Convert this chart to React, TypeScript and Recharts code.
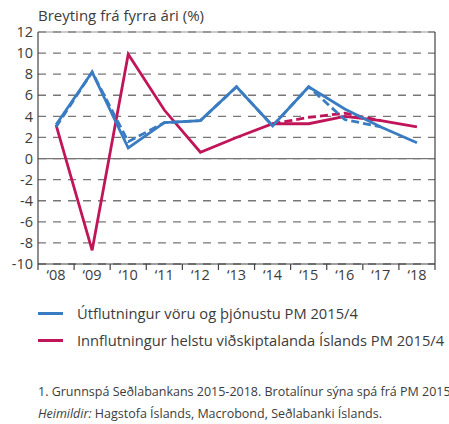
import React from "react";
import {
  CartesianGrid,
  Line,
  LineChart,
  ReferenceLine,
  XAxis,
  YAxis,
} from "recharts";

const years = ["‘08", "‘09", "‘10", "‘11", "‘12", "‘13", "‘14", "‘15", "‘16", "‘17", "‘18"];
const exportsPM = [3.2, 8.2, 1.0, 3.4, 3.6, 6.8, 3.1, 6.8, 4.7, 3.0, 1.5];
const exportsPrev = [3.0, 8.2, 1.6, 3.4, 3.6, 6.8, 3.1, 6.8, 3.7, 3.0, null];
const importsPM = [3.2, -8.7, 9.9, 4.6, 0.6, 2.0, 3.3, 3.3, 4.0, 3.6, 3.0];
const importsPrev = [null, null, null, null, null, null, 3.3, 3.9, 4.3, 3.6, null];
const yTicks = [-10, -8, -6, -4, -2, 0, 2, 4, 6, 8, 10, 12];

const data = years.map((year, i) => ({
  year,
  exportsPM: exportsPM[i],
  exportsPrev: exportsPrev[i],
  importsPM: importsPM[i],
  importsPrev: importsPrev[i],
}));

const BLUE = "#3a7cc1";
const RED = "#c11559";
const TEXT = "#3c3c3c";
const FONT = "'Open Sans', sans-serif";
const BAND = 397 / 11;

const XTick = (props: any) => {
  const { x, y, payload, index } = props;
  return (
    <g>
      <line x1={x - BAND / 2} x2={x - BAND / 2} y1={y} y2={y + 6} stroke="#444" strokeWidth={1.2} />
      {index === years.length - 1 && (
        <line x1={x + BAND / 2} x2={x + BAND / 2} y1={y} y2={y + 6} stroke="#444" strokeWidth={1.2} />
      )}
      <text x={x} y={y + 16} textAnchor="middle" fontSize={14.5} fill={TEXT} fontFamily={FONT}>
        {payload.value}
      </text>
    </g>
  );
};

const LegendRow = ({ color, label, top }: { color: string; label: string; top: number }) => (
  <div style={{ position: "absolute", left: 38, top, display: "flex", alignItems: "center", whiteSpace: "nowrap" }}>
    <div style={{ width: 25, height: 3, background: color, marginRight: 14 }} />
    <span style={{ fontSize: 14.7, color: TEXT }}>{label}</span>
  </div>
);

const App = () => {
  return (
    <div
      style={{
        position: "absolute",
        left: 0,
        top: 0,
        width: 449,
        height: 424,
        overflow: "hidden",
        background: "#fff",
        fontFamily: FONT,
      }}
    >
      <div style={{ position: "absolute", left: 38, top: 5, fontSize: 15, color: TEXT }}>
        Breyting frá fyrra ári (%)
      </div>
      <LineChart width={449} height={290} data={data} margin={{ top: 32, right: 0, left: 0, bottom: 0 }}>
        <CartesianGrid vertical={false} stroke="#777" strokeWidth={1.3} strokeDasharray="8 7" />
        <ReferenceLine y={0} stroke="#777" strokeWidth={1.3} />
        <ReferenceLine y={12} stroke="#999" strokeWidth={1} />
        <XAxis
          dataKey="year"
          scale="band"
          height={26}
          tickLine={false}
          tickSize={0}
          tickMargin={0}
          axisLine={{ stroke: "#444", strokeWidth: 1.2 }}
          tick={<XTick />}
          interval={0}
        />
        <YAxis
          domain={[-10, 12]}
          ticks={yTicks}
          width={38}
          tickLine={false}
          tickSize={3}
          tickMargin={2}
          axisLine={{ stroke: "#444", strokeWidth: 1.2 }}
          tick={{ fontSize: 14.5, fill: TEXT, fontFamily: FONT }}
          interval={0}
        />
        <YAxis
          yAxisId="r"
          orientation="right"
          domain={[-10, 12]}
          width={14}
          tick={false}
          tickLine={false}
          axisLine={{ stroke: "#444", strokeWidth: 1.2 }}
        />
        <Line dataKey="importsPrev" stroke={RED} strokeWidth={2.8} strokeDasharray="8 4" dot={false} isAnimationActive={false} />
        <Line dataKey="importsPM" stroke={RED} strokeWidth={2.8} dot={false} isAnimationActive={false} />
        <Line dataKey="exportsPrev" stroke={BLUE} strokeWidth={2.8} strokeDasharray="8 4" dot={false} isAnimationActive={false} />
        <Line dataKey="exportsPM" stroke={BLUE} strokeWidth={2.8} dot={false} isAnimationActive={false} />
      </LineChart>
      <LegendRow color={BLUE} label="Útflutningur vöru og þjónustu PM 2015/4" top={303} />
      <LegendRow color={RED} label="Innflutningur helstu viðskiptalanda Íslands PM 2015/4" top={330} />
      <div style={{ position: "absolute", left: 38, top: 383, fontSize: 12.5, color: TEXT, whiteSpace: "nowrap" }}>
        1. Grunnspá Seðlabankans 2015-2018. Brotalínur sýna spá frá PM 2015/1.
      </div>
      <div style={{ position: "absolute", left: 38, top: 405, fontSize: 12.5, color: TEXT, whiteSpace: "nowrap" }}>
        <i>Heimildir:</i> Hagstofa Íslands, Macrobond, Seðlabanki Íslands.
      </div>
    </div>
  );
};

export default App;
